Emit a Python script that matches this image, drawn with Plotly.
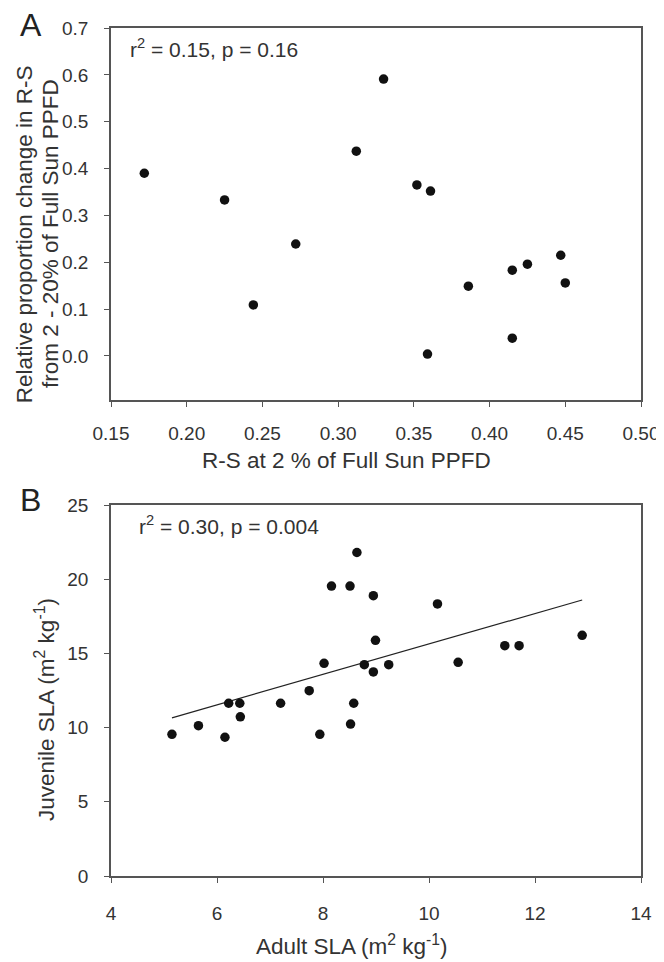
import plotly.graph_objects as go

# Panel A data
rs_2pct = [0.172, 0.225, 0.330, 0.312, 0.352, 0.361, 0.272, 0.244, 0.386,
           0.415, 0.425, 0.447, 0.450, 0.415, 0.359]
rel_change = [0.390, 0.333, 0.591, 0.437, 0.365, 0.352, 0.239, 0.109, 0.149,
              0.183, 0.196, 0.215, 0.156, 0.038, 0.004]

# Panel B data
adult_sla = [8.64, 8.16, 8.51, 8.95, 8.99, 8.02, 8.78, 8.95, 7.74, 10.16,
             9.24, 10.55, 11.43, 11.70, 12.89, 5.15, 5.65, 6.15, 6.22, 6.43,
             6.44, 7.20, 7.94, 8.52, 8.58]
juvenile_sla = [21.8, 19.54, 19.54, 18.89, 15.88, 14.33, 14.24, 13.75, 12.49, 18.33,
                14.24, 14.40, 15.52, 15.52, 16.22, 9.55, 10.13, 9.35, 11.64, 11.64,
                10.73, 11.64, 9.55, 10.24, 11.64]
fit_slope = 1.026
fit_intercept = 5.376

fit_x = [min(adult_sla), max(adult_sla)]
fit_y = [fit_intercept + fit_slope * v for v in fit_x]

FONT = "Liberation Sans, Arial, sans-serif"
TXT = "#333333"
AX = "#555555"

fig = go.Figure()
fig.add_trace(go.Scatter(x=rs_2pct, y=rel_change, mode="markers",
                         marker=dict(size=9.5, color="#111111"),
                         xaxis="x", yaxis="y", showlegend=False))
fig.add_trace(go.Scatter(x=fit_x, y=fit_y, mode="lines",
                         line=dict(color="#222222", width=1.2),
                         xaxis="x2", yaxis="y2", showlegend=False))
fig.add_trace(go.Scatter(x=adult_sla, y=juvenile_sla, mode="markers",
                         marker=dict(size=9.5, color="#111111"),
                         xaxis="x2", yaxis="y2", showlegend=False))

axis_common = dict(showline=True, linecolor=AX, linewidth=1.5, mirror=True,
                   ticks="outside", ticklen=5, tickcolor=AX, tickwidth=1.2,
                   showgrid=False, zeroline=False, automargin=False,
                   tickfont=dict(family=FONT, size=19, color=TXT))


def ann(text, x, y, size, angle=0, xanchor="center", color=TXT):
    return dict(text=text, x=x, y=y, xref="paper", yref="paper",
                xanchor=xanchor, yanchor="middle", showarrow=False,
                textangle=angle, font=dict(family=FONT, size=size, color=color))


fig.update_layout(
    width=656, height=954,
    margin=dict(l=103, r=23, t=20, b=86),
    paper_bgcolor="white", plot_bgcolor="white",
    xaxis=dict(domain=[0, 1], anchor="y", range=[0.15, 0.50], dtick=0.05,
               tick0=0.15, tickformat=".2f", ticklabelstandoff=10, **axis_common),
    yaxis=dict(domain=[0.5613, 1], anchor="x", range=[-0.094, 0.7], dtick=0.1,
               tick0=0, tickformat=".1f", ticklabelstandoff=12, **axis_common),
    xaxis2=dict(domain=[0, 1], anchor="y2", range=[4, 14], dtick=2,
                ticklabelstandoff=14, **axis_common),
    yaxis2=dict(domain=[0, 0.4375], anchor="x2", range=[0, 25], dtick=5,
                ticklabelstandoff=12, **axis_common),
    annotations=[
        ann("A", -0.151, 1.0035, 32, color="#222222"),
        ann("B", -0.151, 0.4434, 32, color="#222222"),
        ann("r<sup>2</sup> = 0.15, p = 0.16", 0.032, 0.9764, 21, xanchor="left"),
        ann("r<sup>2</sup> = 0.30, p = 0.004", 0.049, 0.4139, 21, xanchor="left"),
        ann("R-S at 2 % of Full Sun PPFD", 0.445, 0.4894, 22.5),
        ann("Adult SLA (m<sup>2</sup> kg<sup>-1</sup>)", 0.4547, -0.0814, 22.5),
        ann("Relative proportion change in R-S", -0.164, 0.757, 22.5, angle=-90),
        ann("from 2 - 20% of Full Sun PPFD", -0.115, 0.757, 22.5, angle=-90),
        ann("Juvenile SLA (m<sup>2</sup> kg<sup>-1</sup>)", -0.1245, 0.1958, 22.5, angle=-90),
    ],
)

fig.write_html("out.html")
